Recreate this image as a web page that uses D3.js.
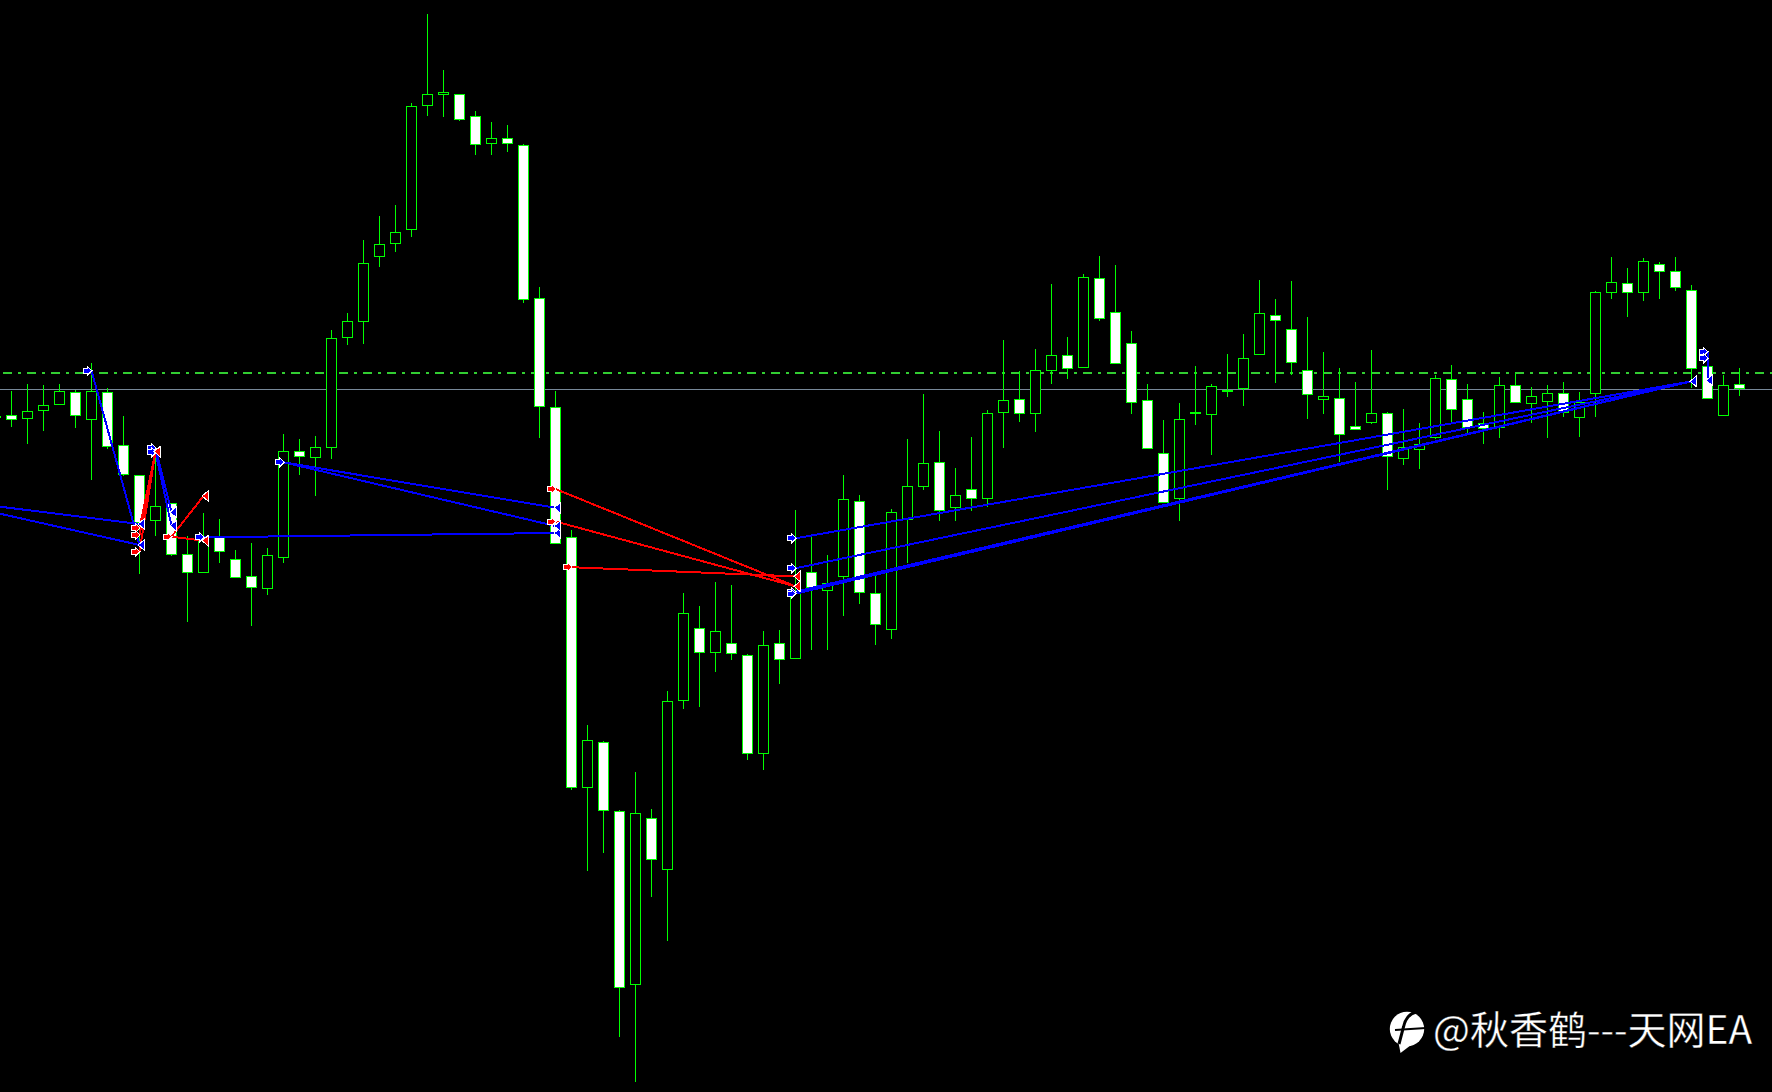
<!DOCTYPE html>
<html><head><meta charset="utf-8">
<script src="https://cdnjs.cloudflare.com/ajax/libs/d3/7.8.5/d3.min.js"></script>
<style>html,body{margin:0;padding:0;background:#000;overflow:hidden}svg{display:block}</style>
</head><body><svg id="c" width="1772" height="1092"></svg>
<script>
const firstBar = -1;
const opens = [674,676.7,673.3,680.7,687.3,699.7,672.3,699.7,647.3,616.7,571.3,588.7,537.7,519.3,554.7,533.3,515.7,502.7,534.3,640.7,634.3,644.3,754.3,770.3,835.3,848.3,862.3,986.3,997.3,997.7,975.7,948.3,953.7,946.7,793.7,684.7,555.5,303.6,349.7,281.5,107.3,274.5,222.5,390.5,464.5,439.5,449.5,437.4,338.5,448.7,433.3,520.3,501,515,590.7,498.7,461.7,571.7,605.3,629.7,584.3,602.7,592.7,679.3,692.7,678.3,721.3,736.7,724.3,813.7,779.7,748.7,691.7,638.7,592.7,678,677.3,700.3,703.3,737.3,776.7,762.7,721.7,692.3,693.7,665.7,669.3,678.7,633.3,642.3,654.3,712.7,692.7,668.7,664.3,706.7,688.3,690.3,698.7,674.3,698.3,799.3,808.7,799.3,827.7,820.7,801.7,725.7,676.3,707.7];
const closes = [676,671.7,680.7,686.7,700.7,675.7,700.7,644.7,616.7,569.3,585.7,537.3,519.3,555,539.7,514.3,504.3,536.7,640.7,635.3,644.7,753.7,770.7,828.7,847.7,859.7,985.7,997.7,999.7,972.3,947.3,953.7,948.3,792.3,685.3,547.6,303.6,351.8,281.5,104.4,279.4,231.6,390.5,478.6,439.5,460.7,438.3,338.5,447.4,431.6,502,504,509,592.7,498.7,467.3,579.7,605.7,628.7,581.3,596.7,592.7,678.7,691.7,678.3,721.7,736.7,723.3,814.7,773.3,728.3,689.3,643.3,589.3,672.7,680,705.7,702.3,733.7,778.7,770.7,729.3,697.3,695.7,657.3,662.3,678.7,635.3,644.7,647.7,713.7,682.3,664.3,662.7,706.7,689.3,695.7,698.7,678.7,690.3,799.7,809.7,799.3,830.7,820.3,804.3,723.3,693.3,706.7,702.7].slice(0,110);
const highs = [677,701,708,707,708,702,728.7,704,676,617,642,589,556,579,573,542,549,544,658,653,655.7,762,779,852,876,887,989,1078,1022,998,981,970,967,948,805,701,561.8,366.8,351,282,320.2,283.2,400.9,499,486.1,510.2,506.9,438,461.1,462,582,557.7,537,617,597,520.3,582.7,653,698,661,623.7,655,682,752,721,743,808,754.7,818,836,827,761,708,672,688.7,726,707.7,738,758,812,792.7,810.7,774.7,740,724,710,742,679.7,683,669,716.7,727,707.7,679.7,715,718.7,705,707,709.7,699.7,801,835,824,834,830,835,806.7,726,717,723.7];
const lows = [673,665,648.3,661.3,687.3,664,612.3,643.3,616,518.3,556.3,536.3,470.3,519.3,529.3,514.3,466.3,497,529.3,617.3,596.3,633,747.3,748.3,825.3,840.3,855,976.3,975.3,971.3,937.3,937.3,940.3,789.3,654.3,547.6,302.3,221.2,239.5,55.3,9.6,194.6,150.6,383.4,385.5,419.6,432.5,332.2,322.3,408.3,433.3,442.3,442.3,476.3,488.3,447,453,529,602,571.3,571.3,581.3,585.3,644.3,670.3,660.3,708,713.3,724.3,771,728.3,678.3,643.3,589.3,571.3,667.3,637.3,695.3,686.3,737.3,709.3,717.3,673.3,678.3,630,662,668.3,602,627,623,653,669,659,648.3,654.3,689.3,668.7,654.3,675.3,655,675.3,793,775,791,793,801,703.7,693.3,676.3,696];

const supportLevel = 719;
const pivotLevel = 702.7;

const tradeSides = ["buy","buy","buy","buy","buy","sell","sell","sell","sell","sell","sell","sell","sell","buy","buy","buy","buy","buy","buy","buy","buy","buy"];
const tradeFromBars = [-10,-10,5,9,9,8,8,8,10,10,34,34,35,12,17,17,49,49,49,49,106,106];
const tradeFromPrices = [603.7,611.6,721.3,643.7,639.7,540.3,557,564,555.3,555.3,603,570.5,524.8,554.7,629.7,629.7,553.7,523.7,500.3,498.3,740.3,733.7];
const tradeToBars = [8,8,8,10,10,9,9,9,12,12,49,49,49,34,34,34,105,105,105,105,106,106];
const tradeToPrices = [568,547,547,579.7,566.3,640.3,640.3,640.3,596,551.3,505.6,505.6,515.6,559,584.2,566,710.7,710.7,710.7,710.7,711.7,711.7];
const sideColors = {buy:"#0000ff", sell:"#ff0000"};

const watermark = "@秋香鹤---天网EA";

const W = 1772, H = 1092;
const x = d3.scaleLinear().domain([firstBar, 108]).range([-4.5, 1739.5]);
const y = d3.scaleLinear().domain([0, 1092]).range([1092, 0]);
const svg = d3.select("#c");
svg.append("rect").attr("width",W).attr("height",H).attr("fill","#000");

const bars = opens.map((o,k)=>({bar:firstBar+k,o,c:closes[k],h:highs[k],l:lows[k]}));
const trades = tradeSides.map((s,k)=>({s,fb:tradeFromBars[k],fp:tradeFromPrices[k],tb:tradeToBars[k],tp:tradeToPrices[k]}));

svg.append("line").attr("x1",3).attr("x2",W).attr("y1",Math.round(y(supportLevel))).attr("y2",Math.round(y(supportLevel)))
  .attr("stroke","#32cd32").attr("stroke-width",2).attr("stroke-dasharray","9 6 3 6").attr("shape-rendering","crispEdges");
svg.append("line").attr("x1",0).attr("x2",W).attr("y1",Math.floor(y(pivotLevel))+.5).attr("y2",Math.floor(y(pivotLevel))+.5)
  .attr("stroke","#778899").attr("stroke-width",1).attr("shape-rendering","crispEdges");

const g = svg.append("g").attr("shape-rendering","crispEdges");
g.selectAll("rect.w").data(bars).join("rect").attr("class","w")
  .attr("x",d=>x(d.bar)-.5).attr("width",1)
  .attr("y",d=>y(d.h)).attr("height",d=>y(d.l)-y(d.h)).attr("fill","#00ff00");
g.selectAll("rect.b").data(bars).join("rect").attr("class","b")
  .attr("x",d=>x(d.bar)-5).attr("width",10)
  .attr("y",d=>Math.round(y(Math.max(d.o,d.c)))+.5)
  .attr("height",d=>Math.max(1,Math.round(y(Math.min(d.o,d.c)))-Math.round(y(Math.max(d.o,d.c)))-1))
  .attr("fill",d=>d.c<d.o?"#ffffff":"#000000")
  .attr("stroke","#00ff00").attr("stroke-width",d=>d.c<d.o?1.4:1);

const tl = svg.append("g").attr("shape-rendering","crispEdges");
tl.selectAll("line").data(trades).join("line")
  .attr("x1",d=>x(d.fb)).attr("y1",d=>y(d.fp)).attr("x2",d=>x(d.tb)).attr("y2",d=>y(d.tp))
  .attr("stroke",d=>sideColors[d.s]).attr("stroke-width",2);

const m = svg.append("g").attr("stroke","#fff").attr("stroke-width",1).attr("shape-rendering","crispEdges");
m.selectAll("path.s").data(trades).join("path").attr("class","s")
  .attr("transform",d=>`translate(${x(d.fb)},${y(d.fp)})`)
  .attr("d","M0.5,0 L-4.5,-5 L-4.5,-2.5 L-8.5,-2.5 L-8.5,2.5 L-4.5,2.5 L-4.5,5 Z").attr("fill",d=>sideColors[d.s]);
m.selectAll("path.e").data(trades).join("path").attr("class","e")
  .attr("transform",d=>`translate(${x(d.tb)},${y(d.tp)})`)
  .attr("d","M-1.5,0 L4.5,-5 L4.5,5 Z").attr("fill",d=>sideColors[d.s]);

const logo = svg.append("g");
logo.append("circle").attr("cx",1407).attr("cy",1029).attr("r",17.2).attr("fill","#fff");
logo.append("path").attr("d","M1398,1040 L1411,1045 L1400.5,1053 Z").attr("fill","#fff");
logo.append("path").attr("d","M1416,1012 C1408,1014 1405,1020 1403.5,1027 L1399,1044").attr("fill","none").attr("stroke","#000").attr("stroke-width",3);
logo.append("path").attr("d","M1395,1030 L1426,1028").attr("fill","none").attr("stroke","#000").attr("stroke-width",2.2);

svg.append("text").attr("x",1433).attr("y",1044).attr("fill","#fff").attr("stroke","#000").attr("stroke-width",0.35)
  .attr("font-family","'Noto Sans CJK SC'").attr("font-size",39)
  .text(watermark);
</script></body></html>
